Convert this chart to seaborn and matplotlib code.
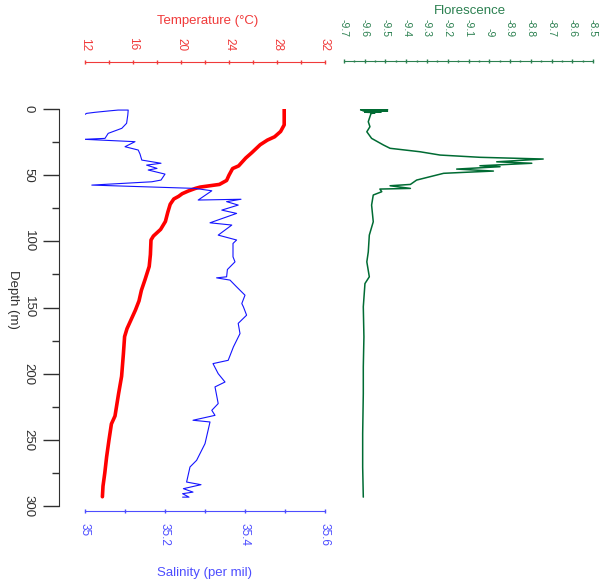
import numpy as np
import pandas as pd
import matplotlib
matplotlib.use("Agg")
import matplotlib.pyplot as plt
import seaborn as sns
from matplotlib.ticker import MultipleLocator, FuncFormatter

# ---- CTD cast profiles -------------------------------------------------
temp_depth = [0, 12, 17, 21, 23.5, 27, 33, 37, 43, 45, 50, 54, 57, 59, 60, 62,
              64, 66, 68, 72, 78, 85, 91, 96, 99, 110, 119, 129, 137, 145, 152,
              160, 166, 172, 185, 202, 215, 232, 238, 250, 263, 275, 285, 293]
temp_vals = [28.6, 28.6, 28.3, 27.8, 27.2, 26.6, 25.9, 25.4, 24.8, 24.3, 24.0,
             23.8, 23.2, 21.6, 21.2, 20.6, 20.1, 19.8, 19.4, 19.1, 18.9, 18.7,
             18.3, 17.7, 17.5, 17.45, 17.35, 17.0, 16.7, 16.5, 16.2, 15.8, 15.5,
             15.3, 15.2, 15.05, 14.8, 14.5, 14.2, 14.0, 13.8, 13.65, 13.5, 13.45]

sal_depth = [5, 3.3, 2.5, 1.5, 0.8, 0.8, 4.5, 10.8, 14.6, 18.4, 22.2, 22.9,
             24.7, 28.5, 31, 34, 38.6, 41, 42.4, 44.9, 46.1, 49.2, 53.7, 55,
             57.5, 60, 61.8, 68.8, 68.2, 70, 72.6, 76.4, 78.9, 86, 87.7, 95.3,
             99, 101.6, 111.7, 115.5, 121.3, 126.8, 127.6, 129.3, 134.4, 140.7,
             147, 149.5, 155.8, 162, 169.7, 179.8, 189.9, 192.4, 200, 206.3,
             210, 222.6, 227.7, 231.5, 235.2, 236.5, 252.9, 265.5, 270.5,
             281.9, 283.9, 286.9, 289.5, 290.7, 293.3, 293.3]
sal_vals = [34.995, 35.004, 35.025, 35.058, 35.083, 35.108, 35.107, 35.104,
            35.092, 35.058, 35.05, 34.998, 35.125, 35.1, 35.133, 35.1375,
            35.142, 35.19, 35.154, 35.18, 35.158, 35.2, 35.19, 35.167, 35.017,
            35.275, 35.317, 35.283, 35.39, 35.354, 35.383, 35.342, 35.379,
            35.3125, 35.367, 35.333, 35.379, 35.37, 35.37, 35.375, 35.356,
            35.354, 35.329, 35.3625, 35.379, 35.4, 35.392, 35.396, 35.404,
            35.383, 35.3875, 35.371, 35.358, 35.32, 35.333, 35.35, 35.325,
            35.333, 35.317, 35.325, 35.27, 35.3125, 35.3, 35.279, 35.2625,
            35.254, 35.29, 35.246, 35.27, 35.244, 35.26, 35.244]

flu_depth = [0.0, 0.3, 0.6, 0.9, 1.2, 1.5, 1.8, 2.1, 2.4, 2.8, 3.5, 5.8, 9.6,
             13.4, 17.2, 22.2, 27.2, 29.7, 32.3, 34.8, 36.5, 37.8, 39.9, 41,
             42.9, 43.6, 45.4, 46.9, 47.9, 48.6, 53.7, 57, 58, 60, 60.5, 62.5,
             65, 72.6, 85.2, 95.3, 108, 115.5, 126.8, 131.9, 149.5, 172.2, 195,
             215, 245.3, 270.6, 293.3]
flu_vals = [-9.60, -9.49, -9.62, -9.50, -9.61, -9.49, -9.60, -9.52, -9.60,
            -9.55, -9.57, -9.575, -9.583, -9.575, -9.59, -9.567, -9.51, -9.478,
            -9.334, -9.237, -9.045, -8.74, -8.964, -8.795, -9.045, -8.948,
            -9.157, -8.98, -9.125, -9.22, -9.35, -9.38, -9.478, -9.38, -9.527,
            -9.518, -9.559, -9.567, -9.559, -9.578, -9.583, -9.59, -9.578,
            -9.599, -9.607, -9.604, -9.607, -9.607, -9.61, -9.61, -9.607]

temp_ticks = [12, 16, 20, 24, 28, 32]
sal_ticks = [35, 35.2, 35.4, 35.6]
flu_ticks = [-9.7, -9.6, -9.5, -9.4, -9.3, -9.2, -9.1, -9.0, -8.9, -8.8,
             -8.7, -8.6, -8.5]
depth_ticks = [0, 50, 100, 150, 200, 250, 300]

temp_df = pd.DataFrame({"depth": temp_depth, "temperature": temp_vals})
sal_df = pd.DataFrame({"depth": sal_depth, "salinity": sal_vals})
flu_df = pd.DataFrame({"depth": flu_depth, "fluorescence": flu_vals})

# ---- style --------------------------------------------------------------
sns.set_style("white")
plt.rcParams["font.family"] = ["Liberation Sans", "DejaVu Sans"]
plt.rcParams["axes.unicode_minus"] = False

RED_LINE, RED_AX = "#ff0000", "#f03a3a"
BLUE_LINE, BLUE_AX = "#1414ff", "#4d4dff"
GREEN_LINE, GREEN_AX = "#006b33", "#2b8050"
DEPTH_AX = "#303030"

W, H = 600, 584
fig = plt.figure(figsize=(W / 100, H / 100), dpi=100)


def rect(x0, y0, x1, y1):
    return [x0 / W, 1 - y1 / H, (x1 - x0) / W, (y1 - y0) / H]


ax = fig.add_axes(rect(85, 109, 325, 506))      # temperature (top) + depth
axS = ax.twiny()                                 # salinity (bottom)
axF = fig.add_axes(rect(344, 109, 593, 506))    # fluorescence

sns.lineplot(data=temp_df, x="temperature", y="depth", sort=False,
             estimator=None, color=RED_LINE, lw=2.6, ax=ax)
sns.lineplot(data=sal_df, x="salinity", y="depth", sort=False,
             estimator=None, color=BLUE_LINE, lw=0.8, ax=axS)
sns.lineplot(data=flu_df, x="fluorescence", y="depth", sort=False,
             estimator=None, color=GREEN_LINE, lw=1.1, ax=axF)

for a in (ax, axS, axF):
    a.set_xlabel("")
    a.set_ylabel("")
    a.set_ylim(300, 0)
    for s in a.spines.values():
        s.set_visible(False)

# temperature axis on top
ax.set_xlim(12, 32)
ax.xaxis.set_ticks_position("top")
ax.set_xticks(temp_ticks)
ax.xaxis.set_minor_locator(MultipleLocator(2))
ax.spines["top"].set_visible(True)
ax.spines["top"].set_position(("outward", 34))
ax.spines["top"].set_color(RED_AX)
ax.tick_params(axis="x", which="both", top=True, bottom=False,
               direction="inout", length=3, width=1, colors=RED_AX,
               labelsize=8.5, labelrotation=-90, pad=6.5)

# depth axis
ax.set_yticks(depth_ticks)
ax.yaxis.set_minor_locator(MultipleLocator(25))
ax.spines["left"].set_visible(True)
ax.spines["left"].set_position(("outward", 18.7))
ax.spines["left"].set_color(DEPTH_AX)
ax.tick_params(axis="y", which="major", left=True, direction="out",
               length=11.5, width=1, colors=DEPTH_AX, labelsize=9.5,
               labelrotation=-90, pad=6)
ax.tick_params(axis="y", which="minor", left=True, direction="out",
               length=5, width=1, colors=DEPTH_AX)
for lab in ax.get_yticklabels():
    lab.set_va("center")

# salinity axis at bottom
axS.set_xlim(35, 35.6)
axS.xaxis.set_ticks_position("bottom")
axS.set_xticks(sal_ticks)
axS.xaxis.set_major_formatter(FuncFormatter(lambda v, p: f"{round(v, 2):g}"))
axS.xaxis.set_minor_locator(MultipleLocator(0.1))
axS.spines["bottom"].set_visible(True)
axS.spines["bottom"].set_position(("outward", 3.6))
axS.spines["bottom"].set_color(BLUE_AX)
axS.tick_params(axis="x", which="both", bottom=True, top=False,
                direction="inout", length=3, width=1, colors=BLUE_AX,
                labelsize=8.5, labelrotation=-90, pad=7)

# fluorescence axis
axF.set_xlim(-9.7, -8.5)
axF.xaxis.set_ticks_position("top")
axF.set_xticks(flu_ticks)
axF.xaxis.set_major_formatter(FuncFormatter(lambda v, p: f"{round(v, 2):g}"))
axF.xaxis.set_minor_locator(MultipleLocator(0.05))
axF.yaxis.set_visible(False)
axF.spines["top"].set_visible(True)
axF.spines["top"].set_position(("outward", 34.8))
axF.spines["top"].set_color(GREEN_AX)
axF.tick_params(axis="x", which="major", top=True, bottom=False,
                direction="inout", length=3, width=1, colors=GREEN_AX,
                labelsize=7.5, labelrotation=-90, pad=15.5)
axF.tick_params(axis="x", which="minor", top=True, bottom=False,
                direction="inout", length=2, width=1, colors=GREEN_AX)

# axis titles
fig.text(207.5 / W, 1 - 21 / H, "Temperature (°C)", color=RED_AX,
         ha="center", va="center", fontsize=9.5)
fig.text(469.5 / W, 1 - 10.5 / H, "Florescence", color=GREEN_AX,
         ha="center", va="center", fontsize=9.5)
fig.text(204 / W, 1 - 573 / H, "Salinity (per mil)", color=BLUE_AX,
         ha="center", va="center", fontsize=9.5)
fig.text(12.5 / W, 1 - 299 / H, "Depth (m)", color=DEPTH_AX,
         ha="center", va="center", rotation=-90, fontsize=9.5)

fig.savefig("out.png", dpi=100)
